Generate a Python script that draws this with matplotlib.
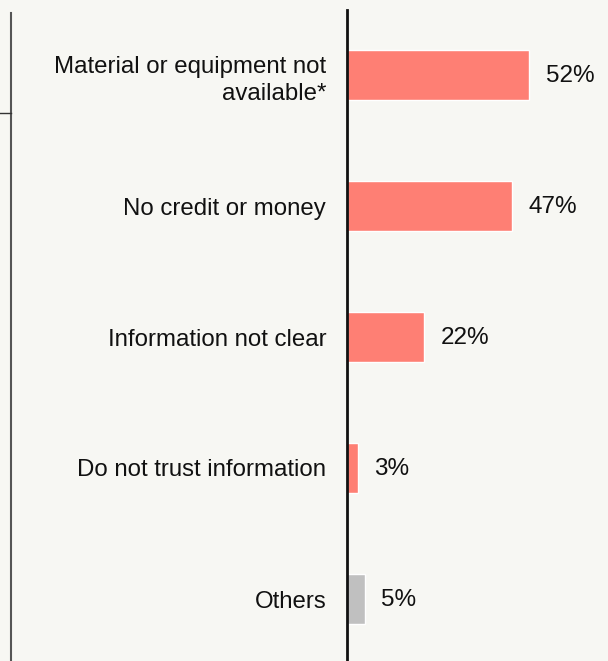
import matplotlib
matplotlib.use("Agg")
import matplotlib.pyplot as plt
from matplotlib.lines import Line2D

# Reasons for not acting on the information (share of respondents, %)
reasons = ["Material or equipment not\navailable*", "No credit or money",
           "Information not clear", "Do not trust information", "Others"]
shares = [52, 47, 22, 3, 5]
bar_colors = ["#fe7f74", "#fe7f74", "#fe7f74", "#fe7f74", "#c0c0c0"]

bg = "#f7f7f3"
plt.rcParams["font.family"] = ["Liberation Sans", "DejaVu Sans"]

fig = plt.figure(figsize=(6.08, 6.61), dpi=100, facecolor=bg)
ax = fig.add_axes([347 / 608, 0, 261 / 608, 651 / 661], facecolor=bg)

y = list(range(len(reasons)))
ax.barh(y, shares, height=0.38, color=bar_colors, edgecolor="white", linewidth=1)

for yi, v in zip(y, shares):
    ax.annotate(f"{v}%", xy=(v, yi), xytext=(12, -1), textcoords="offset points",
                va="center", ha="left", fontsize=17.5, color="#111111")

ax.set_xlim(0, 261 / 3.5)
ax.set_ylim(586 / 131, -65 / 131)
ax.set_yticks(y)
ax.set_yticklabels(reasons, fontsize=17.3, color="#111111", linespacing=1.35)
ax.tick_params(axis="y", length=0, pad=15)
ax.set_xticks([])

for side in ["top", "right", "bottom"]:
    ax.spines[side].set_visible(False)
ax.spines["left"].set_linewidth(2)
ax.spines["left"].set_color("#111111")

# thin frame line on the far left with its small tick
fig.add_artist(Line2D([10.5 / 608, 10.5 / 608], [0, 1 - 13 / 661],
                      transform=fig.transFigure, color="#555555", lw=1.5))
fig.add_artist(Line2D([0, 10.5 / 608], [1 - 113 / 661, 1 - 113 / 661],
                      transform=fig.transFigure, color="#333333", lw=1))

fig.savefig("out.png", dpi=100, facecolor=bg)
